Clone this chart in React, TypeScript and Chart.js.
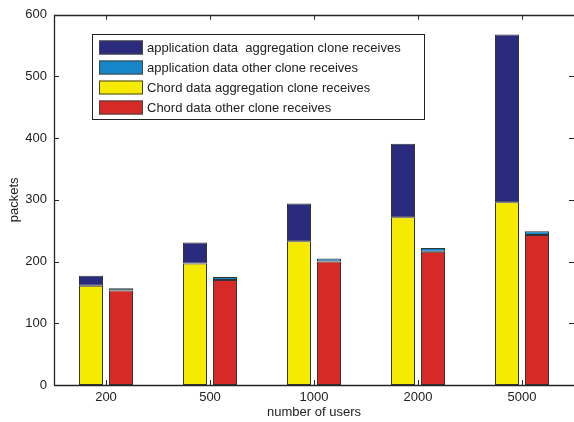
import React, { useEffect, useRef } from "react";
import { Chart, registerables } from "chart.js";

Chart.register(...registerables);

const categories = ["200", "500", "1000", "2000", "5000"];
const chordAggregation = [161, 197, 233, 272, 296];
const appAggregation = [16, 34, 61, 119, 272];
const chordOther = [153, 170, 200, 216, 243];
const appOther = [4, 5, 5, 6, 6];
const yTickValues = [0, 100, 200, 300, 400, 500, 600];

const legendLabels = [
  "application data  aggregation clone receives",
  "application data other clone receives",
  "Chord data aggregation clone receives",
  "Chord data other clone receives",
];
const colors = {
  appAgg: "#2a2b7c",
  appOther: "#1686c9",
  chordAgg: "#f6ea00",
  chordOther: "#d52a26",
};
const FONT = "'Liberation Sans', Arial, Helvetica, sans-serif";

const framePlugin = {
  id: "matlabFrame",
  beforeDatasetsDraw(chart: any) {
    const { ctx, chartArea: a, scales } = chart;
    const x = scales.x;
    const y = scales.y;
    ctx.save();
    ctx.strokeStyle = "#262626";
    ctx.lineWidth = 1;
    ctx.beginPath();
    yTickValues.forEach((v) => {
      const py = Math.round(y.getPixelForValue(v)) + 0.5;
      ctx.moveTo(a.left, py);
      ctx.lineTo(a.left + 5, py);
      ctx.moveTo(a.right, py);
      ctx.lineTo(a.right - 5, py);
    });
    categories.forEach((_c, i) => {
      const px = Math.round(x.getPixelForTick(i)) + 0.5;
      ctx.moveTo(px, a.bottom);
      ctx.lineTo(px, a.bottom - 5);
      ctx.moveTo(px, a.top);
      ctx.lineTo(px, a.top + 5);
    });
    ctx.stroke();
    ctx.restore();
  },
  afterDatasetsDraw(chart: any) {
    const { ctx, chartArea: a } = chart;
    ctx.save();
    ctx.strokeStyle = "#262626";
    ctx.lineWidth = 1.3;
    const L = Math.round(a.left) + 0.5;
    const T = Math.round(a.top) + 0.5;
    const B = Math.round(a.bottom) + 0.5;
    const R = Math.round(a.right) + 1;
    ctx.beginPath();
    ctx.moveTo(R, T);
    ctx.lineTo(L, T);
    ctx.lineTo(L, B);
    ctx.lineTo(R, B);
    ctx.stroke();
    // legend
    const lx = Math.round(a.left) + 38;
    const ly = Math.round(a.top) + 19;
    const lw = 332;
    const lh = 85;
    ctx.fillStyle = "#ffffff";
    ctx.fillRect(lx, ly, lw, lh);
    ctx.lineWidth = 1;
    ctx.strokeStyle = "#222";
    ctx.strokeRect(lx + 0.5, ly + 0.5, lw, lh);
    const swatchColors = [colors.appAgg, colors.appOther, colors.chordAgg, colors.chordOther];
    ctx.font = `13px ${FONT}`;
    ctx.textBaseline = "middle";
    ctx.textAlign = "left";
    legendLabels.forEach((label, i) => {
      const cy = ly + 13.5 + i * 20;
      ctx.fillStyle = swatchColors[i];
      ctx.fillRect(lx + 7, cy - 7, 44, 14);
      ctx.strokeStyle = "#444";
      ctx.strokeRect(lx + 7.5, cy - 6.5, 43, 13);
      ctx.fillStyle = "#222";
      ctx.fillText(label, lx + 55, cy + 0.5);
    });
    ctx.restore();
  },
};

export default function App() {
  const ref = useRef<HTMLCanvasElement | null>(null);
  useEffect(() => {
    if (!ref.current) return;
    const common = {
      borderColor: "#333333",
      borderWidth: 1,
      borderSkipped: false,
      barPercentage: 0.8,
      categoryPercentage: 0.577,
    };
    const chart = new Chart(ref.current, {
      type: "bar",
      data: {
        labels: categories,
        datasets: [
          { label: legendLabels[2], data: chordAggregation, backgroundColor: colors.chordAgg, stack: "agg", ...common },
          { label: legendLabels[3], data: chordOther, backgroundColor: colors.chordOther, stack: "other", ...common },
          { label: legendLabels[0], data: appAggregation, backgroundColor: colors.appAgg, stack: "agg", ...common },
          { label: legendLabels[1], data: appOther, backgroundColor: colors.appOther, stack: "other", ...common },
        ],
      } as any,
      options: {
        animation: false,
        responsive: false,
        devicePixelRatio: 1,
        layout: { padding: { top: 13, right: 0, left: 0, bottom: 0 } },
        plugins: { legend: { display: false }, tooltip: { enabled: false } },
        scales: {
          x: {
            stacked: true,
            grid: { display: false, drawTicks: false },
            border: { display: false },
            ticks: { color: "#222", font: { family: FONT, size: 13 }, padding: 5 },
            title: {
              display: true,
              text: "number of users",
              color: "#222",
              font: { family: FONT, size: 13 },
              padding: { top: 0, bottom: 2 },
            },
            afterFit: (s: any) => {
              s.height = 37;
            },
          },
          y: {
            stacked: true,
            min: 0,
            max: 600,
            grid: { display: false, drawTicks: false },
            border: { display: false },
            ticks: { stepSize: 100, color: "#222", font: { family: FONT, size: 13 }, padding: 7 },
            title: {
              display: true,
              text: "packets",
              color: "#222",
              font: { family: FONT, size: 13 },
              padding: { top: 7, bottom: 0 },
            },
            afterFit: (s: any) => {
              s.width = 54;
            },
          },
        },
      } as any,
      plugins: [framePlugin],
    });
    return () => chart.destroy();
  }, []);
  return (
    <div style={{ position: "absolute", left: 0, top: 0, width: 574, height: 422, background: "#fff" }}>
      <canvas ref={ref} width={574} height={422} style={{ display: "block" }} />
    </div>
  );
}
